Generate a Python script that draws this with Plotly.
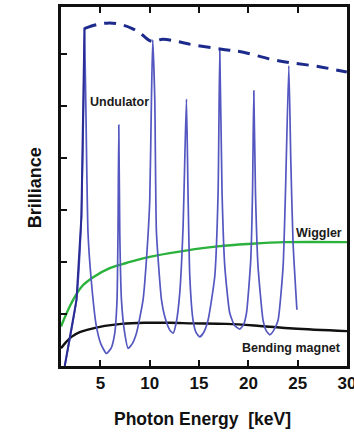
import plotly.graph_objects as go

# Undulator spectrum (photon energy keV, brilliance arb. units)
und_x = [1.38, 2.57, 3.07, 3.30, 3.38, 3.51, 3.74, 4.09, 4.59, 5.05, 5.61, 6.10, 6.45, 6.68, 6.78,
         6.86, 6.96, 7.13, 7.46, 7.80, 8.20, 8.65, 9.32, 9.73, 10.00, 10.17, 10.30, 10.51, 10.68,
         11.19, 11.52, 12.03, 12.37, 12.70, 13.04, 13.38, 13.55, 13.72, 13.88, 14.06, 14.39, 14.70,
         15.07, 15.45, 15.91, 16.59, 16.93, 17.10, 17.33, 17.61, 18.11, 18.60, 19.13, 19.50, 19.81,
         20.24, 20.42, 20.55, 20.72, 20.98, 21.49, 21.80, 22.17, 22.55, 23.01, 23.52, 23.76, 24.10,
         24.30, 24.53, 24.92]
und_y = [0.0, 1.27, 2.87, 5.12, 6.50, 5.12, 2.56, 1.60, 0.76, 0.42, 0.24, 0.35, 0.63, 1.27, 2.56,
         4.63, 2.56, 1.27, 0.63, 0.34, 0.42, 0.63, 1.27, 2.23, 3.19, 5.12, 6.27, 5.12, 2.56,
         1.27, 0.95, 0.69, 0.63, 0.85, 1.40, 2.68, 3.96, 5.13, 3.33, 1.72, 0.88, 0.64,
         0.56, 0.64, 0.88, 1.72, 3.33, 6.08, 3.33, 1.91, 1.02, 0.78, 0.71, 0.79, 1.02,
         2.04, 3.33, 5.29, 3.33, 1.91, 0.88, 0.68, 0.60, 0.68, 0.88, 1.91, 3.33, 5.77,
         3.96, 2.37, 1.08]

# Envelope of undulator peaks (dashed)
env_x = [3.41, 4.59, 5.64, 6.65, 8.17, 9.19, 10.20, 11.32, 12.74, 14.43, 17.30, 19.50, 22.20,
         24.23, 26.94, 29.98]
env_y = [6.49, 6.56, 6.59, 6.58, 6.49, 6.37, 6.24, 6.28, 6.24, 6.17, 6.09, 6.03, 5.90,
         5.83, 5.76, 5.65]

# Wiggler
wig_x = [1.0, 2.06, 3.07, 4.22, 5.94, 7.64, 9.32, 12.03, 16.9, 20.34, 23.69, 30.0]
wig_y = [0.76, 1.21, 1.52, 1.70, 1.88, 1.98, 2.07, 2.17, 2.30, 2.35, 2.38, 2.38]

# Bending magnet
bm_x = [1.0, 1.51, 2.06, 2.90, 3.74, 5.44, 7.13, 9.49, 12.03, 14.39, 17.78, 21.16, 24.53, 30.0]
bm_y = [0.34, 0.46, 0.56, 0.65, 0.70, 0.77, 0.81, 0.83, 0.83, 0.82, 0.81, 0.77, 0.72, 0.67]

x_ticks = [5, 10, 15, 20, 25, 30]
y_ticks = [1, 2, 3, 4, 5, 6]

FONT = "Liberation Sans, Arial, sans-serif"

fig = go.Figure()
fig.add_trace(go.Scatter(x=bm_x, y=bm_y, mode="lines", line=dict(color="#111111", width=2.4, shape="spline"),
                         showlegend=False, hoverinfo="skip"))
fig.add_trace(go.Scatter(x=wig_x, y=wig_y, mode="lines", line=dict(color="#2bb23c", width=2.4, shape="spline"),
                         showlegend=False, hoverinfo="skip"))
fig.add_trace(go.Scatter(x=und_x, y=und_y, mode="lines",
                         line=dict(color="#5457c0", width=1.7, shape="spline", smoothing=0.5),
                         showlegend=False, hoverinfo="skip"))
fig.add_trace(go.Scatter(x=und_x[:5], y=und_y[:5], mode="lines", line=dict(color="#2a2c95", width=2),
                         showlegend=False, hoverinfo="skip"))
fig.add_trace(go.Scatter(x=env_x, y=env_y, mode="lines",
                         line=dict(color="#1c2a8c", width=3, dash="12px,8px", shape="spline"),
                         showlegend=False, hoverinfo="skip"))

ann_font = dict(family=FONT, size=12.5, color="#1a1a1a", weight="bold")
fig.add_annotation(x=6.97, y=5.08, text="Undulator", showarrow=False, font=ann_font)
fig.add_annotation(x=27.11, y=2.55, text="Wiggler", showarrow=False, font=ann_font)
fig.add_annotation(x=24.40, y=0.35, text="Bending magnet", showarrow=False, font=ann_font)

fig.add_annotation(xref="paper", yref="paper", x=0.4965, y=0, yshift=-53, yanchor="middle",
                   text="Photon Energy  [keV]", showarrow=False,
                   font=dict(family=FONT, size=17.5, color="#111111", weight="bold"))
fig.add_annotation(xref="paper", yref="paper", x=0, y=0.495, xshift=-26, xanchor="center",
                   yanchor="middle", textangle=-90, text="Brilliance", showarrow=False,
                   font=dict(family=FONT, size=18, color="#111111", weight="bold"))

fig.update_xaxes(range=[1, 30], tickvals=x_ticks, ticktext=[str(v) for v in x_ticks],
                 ticks="inside", ticklen=6, tickwidth=2, tickcolor="#111111",
                 showline=True, linecolor="#111111", linewidth=2.5, mirror="ticks",
                 showgrid=False, zeroline=False, automargin=False, ticklabeloverflow="allow",
                 tickfont=dict(family=FONT, size=17, color="#111111", weight="bold"))
fig.update_yaxes(range=[0, 6.9], tickvals=y_ticks, showticklabels=False,
                 ticks="inside", ticklen=6, tickwidth=2, tickcolor="#111111",
                 showline=True, linecolor="#111111", linewidth=2.5, mirror=True,
                 showgrid=False, zeroline=False, automargin=False)

fig.update_layout(width=354, height=435, margin=dict(l=61, r=7, t=7, b=69),
                  plot_bgcolor="white", paper_bgcolor="white")

fig.write_html("out.html")
